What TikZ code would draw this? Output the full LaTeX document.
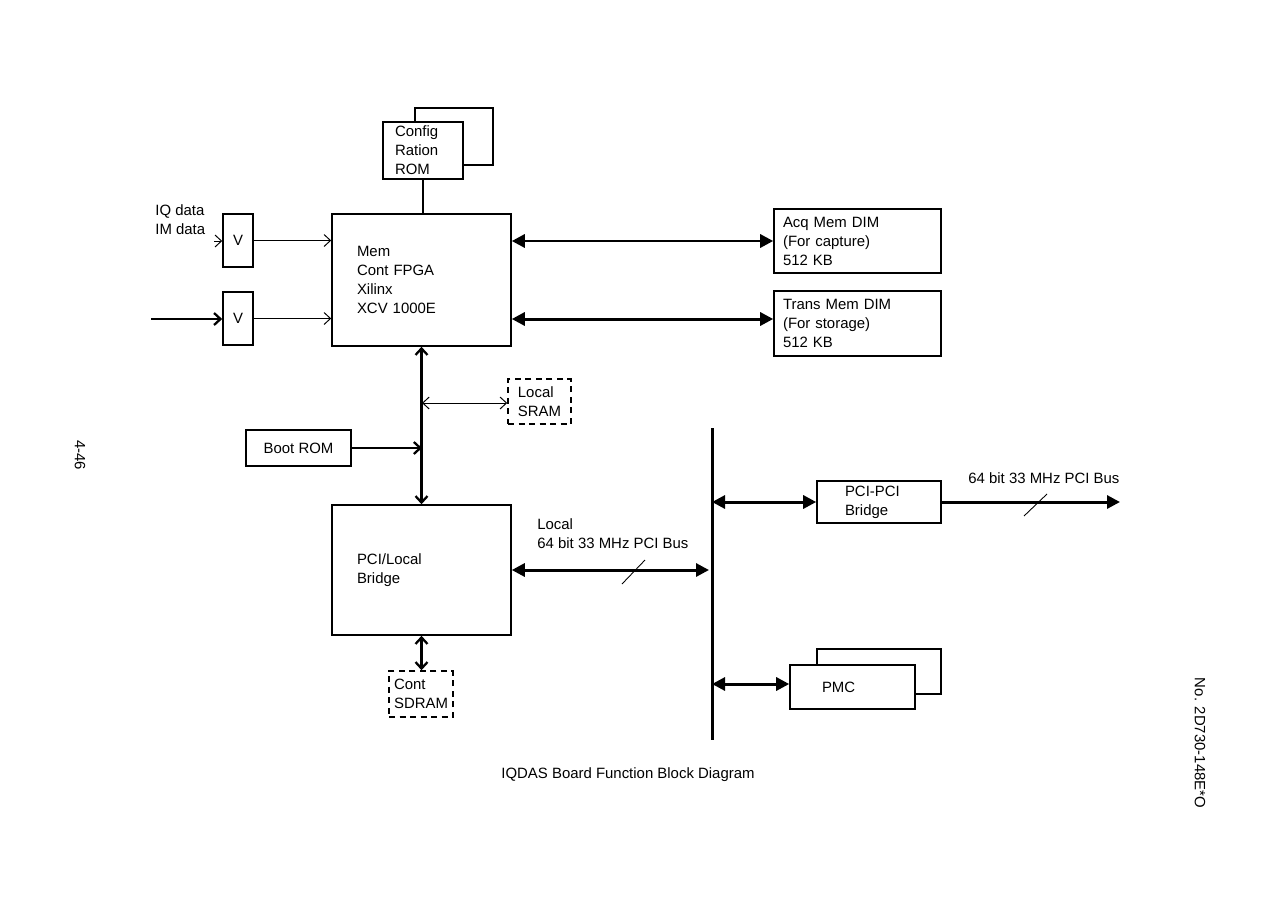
\documentclass[tikz,border=0pt]{standalone}
\usepackage{fontspec}
\setmainfont{Liberation Sans}
\usetikzlibrary{arrows.meta}
\newcommand\diagfont{\fontsize{8.5}{10.8}\selectfont}

\begin{document}
\begin{tikzpicture}[
  x=0.02cm, y=-0.02cm,
  blk/.style={draw, line width=0.9pt, inner ysep=0pt, align=left, font=\diagfont},
  vbox/.style={blk, align=center, minimum width=0.6cm, minimum height=1.06cm, inner sep=0pt},
  dashbox/.style={blk, dashed, dash pattern=on 3.5pt off 2.5pt, inner xsep=0pt},
  txt/.style={font=\diagfont, inner sep=0pt, anchor=west, align=left},
  thinarr/.style={line width=0.55pt, arrows={-Straight Barb[length=1.3mm,width=2.4mm]}},
  medarr/.style={line width=1.3pt, arrows={-Straight Barb[length=1.3mm,width=2.4mm]}},
  busarr/.style={line width=1.7pt, arrows={-Triangle[length=2.6mm,width=2.6mm]}},
  >=Latex, color=black
]
\useasboundingbox (0,0) rectangle (1263,896);

\node[blk, minimum width=1.56cm, minimum height=1.14cm] (cfgback) at (454,136.5) {};
\node[blk, fill=white, text width=1.12cm, inner xsep=0.24cm, minimum height=1.14cm] (cfgrom) at (423,150.5) {Config\\Ration\\ROM};

\node[blk, text width=2.58cm, inner xsep=0.5cm, minimum height=2.64cm] (fpga) at (421.5,280) {Mem\\Cont FPGA\\Xilinx\\XCV 1000E};

\node[vbox] (v1) at (238,240.5) {V};
\node[vbox] (v2) at (238,318.5) {V};
\node[txt] (iqlbl) at (155,219.5) {IQ data\\IM data};

\node[blk, text width=2.98cm, inner xsep=0.18cm, minimum height=1.28cm] (acq) at (857.5,241) {Acq Mem DIM\\(For capture)\\512 KB};
\node[blk, text width=2.98cm, inner xsep=0.18cm, minimum height=1.3cm] (trans) at (857.5,323.5) {Trans Mem DIM\\(For storage)\\512 KB};

\node[dashbox, minimum width=1.26cm, minimum height=0.9cm] (sram) at (539.5,401.5) {Local\\SRAM};
\node[blk, align=center, minimum width=2.1cm, minimum height=0.72cm] (bootrom) at (298.5,448) {Boot ROM};

\node[blk, text width=2.58cm, inner xsep=0.5cm, minimum height=2.6cm] (bridge) at (421.5,570) {PCI/Local\\Bridge};
\node[dashbox, minimum width=1.28cm, minimum height=0.92cm] (sdram) at (421,694) {Cont\\SDRAM};

\node[blk, text width=1.36cm, inner xsep=0.56cm, minimum height=0.84cm] (pcipci) at (879,502) {PCI-PCI\\Bridge};
\node[blk, minimum width=2.48cm, minimum height=0.9cm] (pmcback) at (879,671.5) {};
\node[blk, fill=white, text width=1.22cm, inner xsep=0.64cm, minimum height=0.88cm] (pmc) at (852.5,687) {PMC};

\node[txt] (locallbl) at (537,534) {Local\\64 bit 33 MHz PCI Bus};
\node[txt] (outlbl) at (968,478) {64 bit 33 MHz PCI Bus};
\node[txt, anchor=center] (caption) at (628,775) {IQDAS Board Function Block Diagram};
\node[txt, anchor=center, rotate=-90] (pagenum) at (80,455) {4-46};
\node[txt, anchor=center, rotate=-90] (docno) at (1200,743) {No. 2D730-148E*O};

\coordinate (iqin) at (214,241);
\coordinate (imin) at (151,319);
\coordinate (sramtap) at (422,403);
\coordinate (boottap) at (422,448);
\coordinate (bustop) at (712,428);
\coordinate (busbot) at (712,740);
\coordinate (pciout) at (1120,503);

% inputs
\draw[thinarr] (iqin) -- (iqin -| v1.west);
\draw[medarr] (imin) -- (imin -| v2.west);
\draw[thinarr] (v1.east) -- (v1.east -| fpga.west);
\draw[thinarr] (v2.east) -- (v2.east -| fpga.west);
\draw[line width=1.2pt] (cfgrom.south) -- (cfgrom.south |- fpga.north);

% memory
\draw[busarr, arrows={Triangle[length=2.6mm,width=2.6mm]-Triangle[length=2.6mm,width=2.6mm]}] (acq.west -| fpga.east) -- (acq.west);
\draw[busarr, arrows={Triangle[length=2.6mm,width=2.6mm]-Triangle[length=2.6mm,width=2.6mm]}] ([yshift=0.09cm]trans.west -| fpga.east) -- ([yshift=0.09cm]trans.west);

% local side
\draw[medarr, arrows={Straight Barb[length=1.3mm,width=2.4mm]-Straight Barb[length=1.3mm,width=2.4mm]}] (fpga.south) -- (bridge.north);
\draw[thinarr, arrows={Straight Barb[length=1.3mm,width=2.4mm]-Straight Barb[length=1.3mm,width=2.4mm]}] (sramtap) -- (sramtap -| sram.west);
\draw[medarr] (bootrom.east) -- (boottap);
\draw[medarr, arrows={Straight Barb[length=1.3mm,width=2.4mm]-Straight Barb[length=1.3mm,width=2.4mm]}] (bridge.south) -- (bridge.south |- sdram.north);

% pci bus
\draw[line width=1.7pt] (bustop) -- (busbot);
\draw[busarr, arrows={Triangle[length=2.6mm,width=2.6mm]-Triangle[length=2.6mm,width=2.6mm]}] (bridge.east) -- ([xshift=-0.06cm]bridge.east -| bustop);
\draw[busarr, arrows={Triangle[length=2.6mm,width=2.6mm]-Triangle[length=2.6mm,width=2.6mm]}] (pcipci.west -| bustop) -- (pcipci.west);
\draw[busarr] (pcipci.east) -- (pcipci.east -| pciout);
\draw[busarr, arrows={Triangle[length=2.6mm,width=2.6mm]-Triangle[length=2.6mm,width=2.6mm]}] ([yshift=0.06cm]pmc.west -| bustop) -- ([yshift=0.06cm]pmc.west);

% bus width marks
\draw[line width=0.5pt] (622,584) -- (645,560);
\draw[line width=0.5pt] (1024,516) -- (1047,494);
\end{tikzpicture}
\end{document}
